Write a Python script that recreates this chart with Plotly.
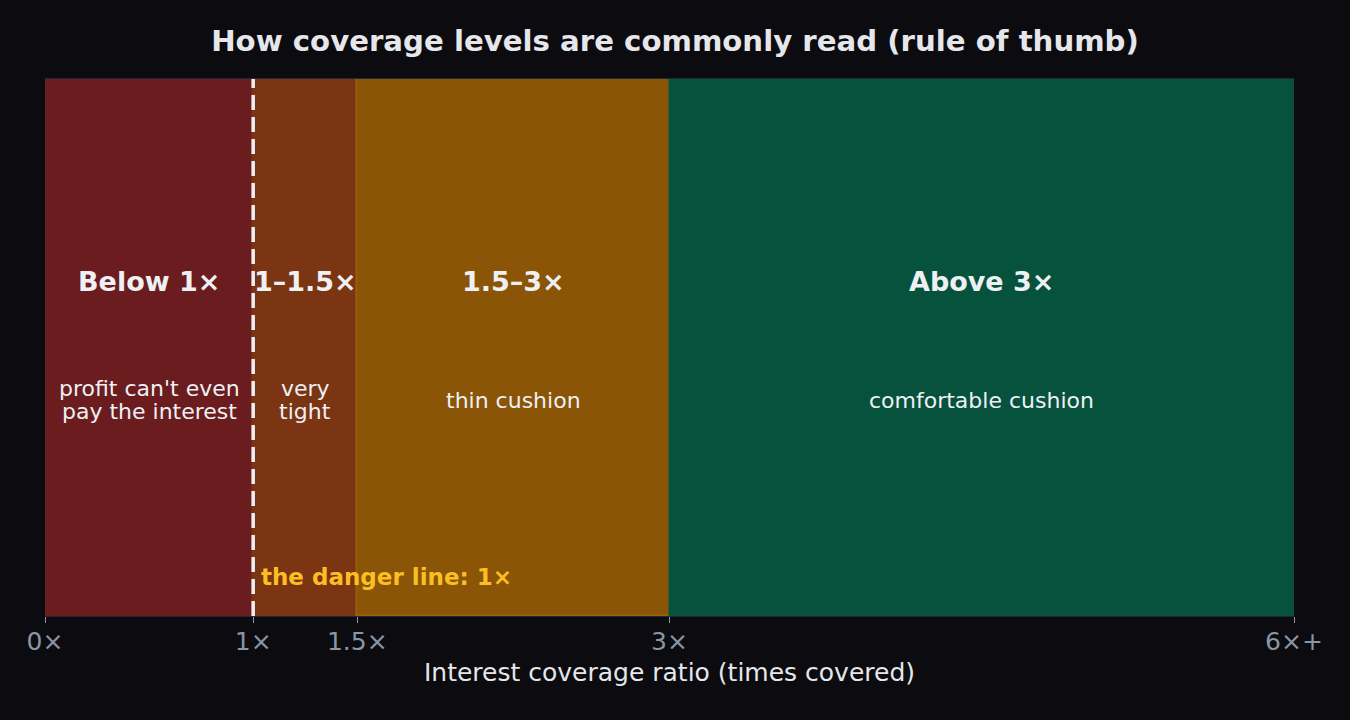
import plotly.graph_objects as go

# coverage bands (times covered)
band_start = [0, 1, 1.5, 3]
band_end = [1, 1.5, 3, 6]
band_title = ["Below 1×", "1–1.5×", "1.5–3×", "Above 3×"]
band_note = ["profit can't even<br>pay the interest", "very<br>tight", "thin cushion", "comfortable cushion"]
band_color = ["#6b1c1f", "#7b3512", "#8a5507", "#07523d"]
band_edge = ["#6b1c1f", "#7b3512", "#a0600a", "#07523d"]

tick_vals = [0, 1, 1.5, 3, 6]
tick_text = ["0×", "1×", "1.5×", "3×", "6×+"]
danger_x = 1

fig = go.Figure()
for s, e, c, ec in zip(band_start, band_end, band_color, band_edge):
    fig.add_trace(go.Bar(
        y=[0], x=[e - s], base=[s], orientation="h", width=1,
        marker=dict(color=c, line=dict(color=ec, width=1.5)),
        hoverinfo="skip", showlegend=False,
    ))

for s, e, t, n in zip(band_start, band_end, band_title, band_note):
    mid = (s + e) / 2
    fig.add_annotation(x=mid, y=0.622, yref="paper", yanchor="middle", text="<b>" + t + "</b>",
                       showarrow=False, font=dict(size=27, color="#eef0f4"))
    lines = n.split("<br>")
    # tighter line spacing than plotly's default
    for i, ln in enumerate(lines):
        off = (len(lines) - 1) / 2 - i
        fig.add_annotation(x=mid, y=0.402, yref="paper", yanchor="middle", yshift=off * 23,
                           text=ln, showarrow=False, font=dict(size=22, color="#eef0f4"))

fig.add_shape(type="line", x0=danger_x, x1=danger_x, y0=0, y1=1, yref="paper",
              line=dict(color="#eef2f7", width=3.5, dash="15px,7px"))
fig.add_annotation(x=danger_x, y=0.073, yref="paper", yanchor="middle",
                   text="<b>the danger line: 1×</b>",
                   xanchor="left", xshift=6, showarrow=False,
                   font=dict(size=23, color="#fbbf24"))

fig.update_layout(
    width=1350, height=720,
    paper_bgcolor="#0b0b10", plot_bgcolor="#0b0b10",
    font=dict(family="DejaVu Sans", color="#e5e7eb"),
    title=dict(text="<b>How coverage levels are commonly read (rule of thumb)</b>",
               x=0.5, xanchor="center", y=0.943, yanchor="middle",
               font=dict(size=29.2, color="#e5e7eb")),
    margin=dict(l=45, r=56, t=79, b=104),
    barmode="overlay", bargap=0,
    xaxis=dict(range=[0, 6], tickvals=tick_vals, ticktext=tick_text,
               tickfont=dict(size=25, color="#8b95a3"), ticks="outside", ticklen=6,
               tickcolor="#8b95a3", ticklabelstandoff=-3,
               showgrid=False, zeroline=False,
               showline=True, linecolor="#1f2937", mirror=True,
               title=dict(text="Interest coverage ratio (times covered)",
                          font=dict(size=25, color="#e5e7eb"), standoff=8)),
    yaxis=dict(range=[-0.5, 0.5], visible=False, fixedrange=True),
)

fig.write_html("out.html", config={"displayModeBar": False},
               post_script="document.body.style.margin='0';document.body.style.background='#0b0b10';")
